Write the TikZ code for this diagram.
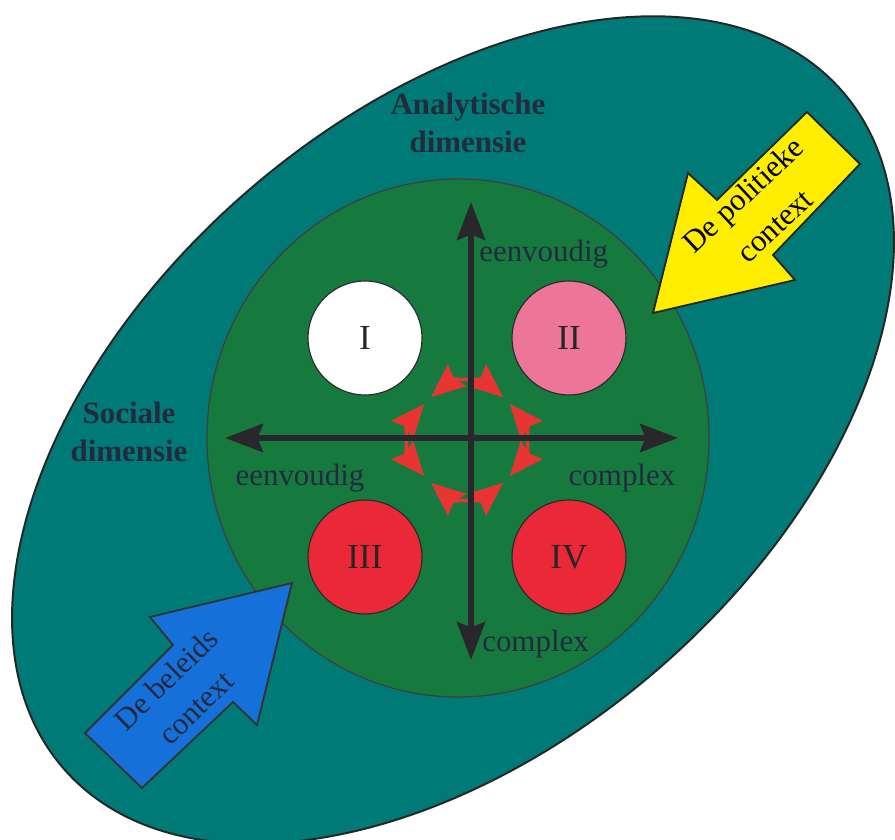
\documentclass[tikz,border=0pt]{standalone}
\usepackage{fontspec}
\setmainfont{Liberation Serif}
\usepackage{tikz}
\usetikzlibrary{positioning, arrows.meta, calc}

\definecolor{outerteal}{RGB}{0,122,118}
\definecolor{innergreen}{RGB}{22,122,62}
\definecolor{inkdark}{RGB}{36,42,62}
\definecolor{axisdark}{RGB}{40,40,44}
\definecolor{roundred}{RGB}{235,40,55}
\definecolor{roundpink}{RGB}{237,117,151}
\definecolor{ringred}{RGB}{232,52,50}
\definecolor{ctxyellow}{RGB}{255,238,0}
\definecolor{ctxblue}{RGB}{22,112,218}

\begin{document}
\begin{tikzpicture}[x=0.025cm, y=0.025cm,
    axis/.style={draw=axisdark, line width=4.2pt,
        arrows={Stealth[length=27pt, width=20pt, inset=4pt]-Stealth[length=27pt, width=20pt, inset=4pt]}},
    ringarrow/.style={draw=ringred, line width=2.4pt,
        arrows={Stealth[length=24pt, width=20pt, inset=3pt]-Stealth[length=24pt, width=20pt, inset=3pt]}},
    quadrant/.style={circle, draw=axisdark, line width=0.8pt, minimum size=2.85cm,
        inner sep=0pt, font=\fontsize{25}{30}\selectfont, text=black!85},
    dimlabel/.style={font=\fontsize{22}{27}\selectfont\bfseries, text=inkdark, align=center},
    axlabel/.style={font=\fontsize{22}{26}\selectfont, text=inkdark, inner sep=0pt},
    ctxtext/.style={font=\fontsize{22}{26}\selectfont, inner sep=0pt}]
    \useasboundingbox (0,0) rectangle (895,840);
    % Outer field
    \draw[fill=outerteal, draw=black!85, line width=1.4pt, rotate around={41:(453,410)}]
        (453,410) ellipse [x radius=516, y radius=315];
    % Inner field
    \draw[fill=innergreen, draw=black!75, line width=0.9pt]
        (458,402) ellipse [x radius=251, y radius=259];
    % Context arrows
    \draw[fill=ctxyellow, draw=black!85, line width=1.3pt]
        (653,527) -- (688,667) -- (717,640) -- (807,728) -- (860,676) -- (773,585) -- (795,560) -- cycle;
    \draw[fill=ctxblue, draw=black!80, line width=1.3pt]
        (292,257) -- (150,223) -- (173,195) -- (85,107) -- (142,52) -- (233,138) -- (257,115) -- cycle;
    \node[ctxtext, rotate=43] (politiek) at (745,643) {De politieke};
    \node[ctxtext, rotate=43] (politiekb) at (776,613) {context};
    \node[ctxtext, rotate=44, text=inkdark] (beleid) at (166,161) {De beleids};
    \node[ctxtext, rotate=44, text=inkdark] (beleidb) at (197,131) {context};
    % Dimension labels
    \node[dimlabel] (analytisch) at (468,717) {Analytische\\dimensie};
    \node[dimlabel] (sociaal) at (129,408) {Sociale\\dimensie};
    % Quadrants
    \node[quadrant, fill=white] (q1) at (365,502) {I};
    \node[quadrant, fill=roundpink] (q2) at (569,502) {II};
    \node[quadrant, fill=roundred] (q3) at (365,283) {III};
    \node[quadrant, fill=roundred] (q4) at (569,283) {IV};
    % Red ring of double arrows
    \coordinate (ring) at (467,400);
    \foreach \a in {0,90,180,270}
        \draw[ringarrow] (ring) ++(\a-40:56) arc[start angle=\a-40, end angle=\a+40, radius=56];
    % Axes
    \coordinate (vtop) at (471,638);
    \coordinate (vbot) at (471,180);
    \coordinate (hleft) at (225,402);
    \coordinate (hright) at (678,402);
    \draw[axis] (vbot) -- (vtop);
    \draw[axis] (hleft) -- (hright);
    % Axis labels
    \node[axlabel, anchor=west] (topsimple) at (479,586) {eenvoudig};
    \node[axlabel] (leftsimple) at (300,362) {eenvoudig};
    \node[axlabel] (rightcomplex) at (622,362) {complex};
    \node[axlabel, anchor=west] (botcomplex) at (482,196) {complex};
\end{tikzpicture}
\end{document}
